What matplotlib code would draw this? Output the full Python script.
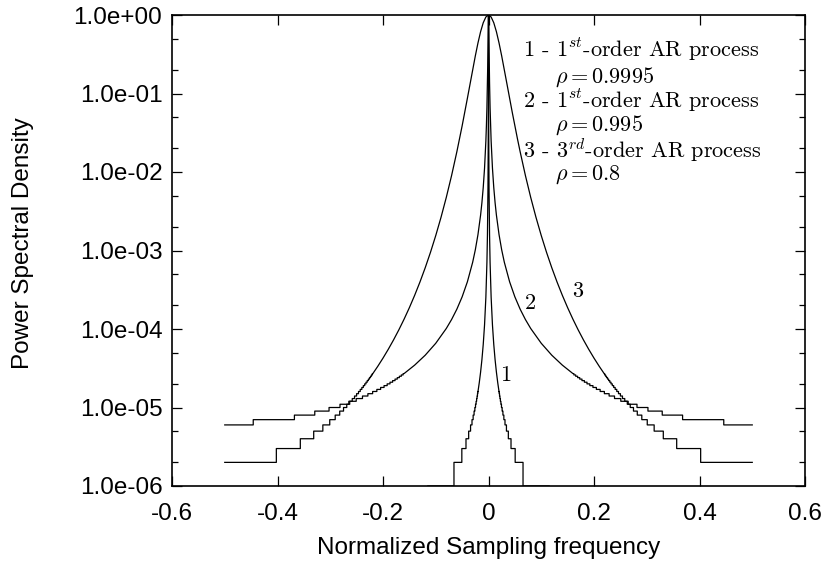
import numpy as np
import matplotlib
matplotlib.use("Agg")
import matplotlib.pyplot as plt
from matplotlib.ticker import LogLocator, FixedLocator, FuncFormatter, NullLocator

plt.rcParams['font.family'] = ['Liberation Sans', 'DejaVu Sans']
plt.rcParams['mathtext.fontset'] = 'cm'

# positive half of each (symmetric) spectrum
# smooth part: frequency / psd, then the quantised staircase (levels in 1e-6)
c1_f = [0, 0.00005, 0.0001, 0.0002, 0.0005, 0.001, 0.002, 0.003, 0.005,
        0.0075, 0.01, 0.0125, 0.015, 0.0175, 0.02]
c1_psd = [1.0, 0.717, 0.3878, 0.1367, 0.02472, 6.296e-3, 1.5815e-3, 7.035e-4,
          2.534e-4, 1.1264e-4, 6.338e-5, 4.057e-5, 2.818e-5, 2.071e-5, 1.586e-5]
c1_edges = [0.020231, 0.020918, 0.021681, 0.022532, 0.023493, 0.024589,
            0.025854, 0.027335, 0.029106, 0.031271, 0.034005, 0.037610,
            0.042675, 0.050554, 0.065453]
c1_levels = [16, 15, 14, 13, 12, 11, 10, 9, 8, 7, 6, 5, 4, 3, 2, 1]
c1_end = 0.115

c2_f = [0, 0.0005, 0.001, 0.0015, 0.002, 0.003, 0.004, 0.005, 0.0075, 0.01,
        0.0125, 0.015, 0.02, 0.025, 0.03, 0.04, 0.05, 0.06, 0.07, 0.08, 0.10,
        0.12, 0.14, 0.16]
c2_psd = [1.0, 0.718, 0.389, 0.2205, 0.1373, 0.06605, 0.03826, 0.02483,
          0.01119, 6.326e-3, 4.059e-3, 2.823e-3, 1.5906e-3, 1.0194e-3,
          7.088e-4, 3.997e-4, 2.566e-4, 1.7886e-4, 1.3198e-4, 1.0156e-4,
          6.578e-5, 4.635e-5, 3.465e-5, 2.7065e-5]
c2_edges = [0.16186, 0.16531, 0.16900, 0.17295, 0.17720, 0.18177, 0.18672,
            0.19212, 0.19801, 0.20448, 0.21165, 0.21965, 0.22866, 0.23889,
            0.25080, 0.26480, 0.28151, 0.30228, 0.32934, 0.36794, 0.446]
c2_levels = [27, 26, 25, 24, 23, 22, 21, 20, 19, 18, 17, 16, 15, 14, 13, 12,
             11, 10, 9, 8, 7, 6]
c2_end = 0.5

c3_f = [0, 0.005, 0.01, 0.015, 0.02, 0.025, 0.03, 0.035, 0.04, 0.045, 0.05,
        0.055, 0.06, 0.07, 0.08, 0.09, 0.10, 0.11, 0.12, 0.13, 0.14, 0.15,
        0.16, 0.17, 0.18, 0.19, 0.20, 0.21, 0.22]
c3_psd = [1.0, 0.9431, 0.7962, 0.6125, 0.4394, 0.3008, 0.2005, 0.1321,
          0.08702, 0.05768, 0.03865, 0.02625, 0.01810, 9.003e-3, 4.753e-3,
          2.649e-3, 1.551e-3, 9.481e-4, 6.023e-4, 3.960e-4, 2.684e-4,
          1.870e-4, 1.335e-4, 9.746e-5, 7.262e-5, 5.513e-5, 4.257e-5,
          3.340e-5, 2.659e-5]
c3_edges = [0.22014, 0.22190, 0.22374, 0.22568, 0.22773, 0.22993, 0.23224,
            0.23469, 0.23731, 0.24012, 0.24316, 0.24644, 0.25007, 0.25397,
            0.25831, 0.26310, 0.26870, 0.27483, 0.28205, 0.29062, 0.30095,
            0.31404, 0.33137, 0.35675, 0.40219]
c3_levels = [27, 26, 25, 24, 23, 22, 21, 20, 19, 18, 17, 16, 15, 14, 13, 12,
             11, 10, 9, 8, 7, 6, 5, 4, 3, 2]
c3_end = 0.5

legend_lines = [r"1 - $1^{st}$-order AR process", r"$\rho = 0.9995$",
                r"2 - $1^{st}$-order AR process", r"$\rho = 0.995$",
                r"3 - $3^{rd}$-order AR process", r"$\rho = 0.8$"]


def build(f, psd, edges, levels, f_end):
    x = list(f)
    y = list(psd)
    lev = [v * 1e-6 for v in levels]
    for i, e in enumerate(edges):
        x += [e, e]
        y += [lev[i], lev[i + 1]]
    x.append(f_end)
    y.append(lev[-1])
    x = np.array(x)
    y = np.array(y)
    return np.concatenate([-x[::-1], x[1:]]), np.concatenate([y[::-1], y[1:]])


fig = plt.figure(figsize=(8.25, 5.65), dpi=100)
ax = fig.add_axes([172 / 825, 79 / 565, 633 / 825, 471 / 565])

for c in [(c1_f, c1_psd, c1_edges, c1_levels, c1_end),
          (c2_f, c2_psd, c2_edges, c2_levels, c2_end),
          (c3_f, c3_psd, c3_edges, c3_levels, c3_end)]:
    x, y = build(*c)
    ax.plot(x, y, color='black', lw=0.9)

ax.set_yscale('log')
ax.set_xlim(-0.6, 0.6)
ax.set_ylim(1e-6, 1.0)
ax.xaxis.set_major_locator(FixedLocator([-0.6, -0.4, -0.2, 0, 0.2, 0.4, 0.6]))
ax.xaxis.set_minor_locator(NullLocator())
ax.xaxis.set_major_formatter(FuncFormatter(lambda v, p: '0' if abs(v) < 1e-9 else ('%.1f' % v)))
ax.yaxis.set_major_locator(LogLocator(base=10, numticks=10))
ax.yaxis.set_minor_locator(LogLocator(base=10, subs=(2.0, 5.0), numticks=20))
ax.yaxis.set_major_formatter(FuncFormatter(lambda v, p: '%.1e' % v))
ax.tick_params(which='both', direction='in', top=True, right=True, labelsize=17.5)
ax.tick_params(which='major', length=7, width=0.9)
ax.tick_params(which='minor', length=4, width=0.9)
ax.tick_params(axis='x', which='major', pad=12)
ax.tick_params(axis='y', which='major', pad=7)
for s in ax.spines.values():
    s.set_linewidth(1.2)

ax.set_xlabel('Normalized Sampling frequency', fontsize=17.5)
ax.xaxis.set_label_coords(0.5, -0.1316)
ax.xaxis.label.set_va('center')
ax.set_ylabel('Power Spectral Density', fontsize=17.5)
ax.yaxis.set_label_coords(-0.2354, 0.516)
ax.yaxis.label.set_va('center')

pos = [(0.5545, 0.9257), (0.605, 0.8684), (0.5545, 0.8195),
       (0.605, 0.7665), (0.5545, 0.7134), (0.605, 0.6603)]
for (px, py), t in zip(pos, legend_lines):
    ax.text(px, py, t, transform=ax.transAxes, fontsize=16, family='cmr10',
            ha='left', va='center')

for t, px, py in [('1', 0.5276, 0.2357), ('2', 0.5655, 0.3885), ('3', 0.6414, 0.4140)]:
    ax.text(px, py, t, transform=ax.transAxes, fontsize=16, family='cmr10',
            ha='center', va='center')

fig.savefig('out.png', dpi=100)
